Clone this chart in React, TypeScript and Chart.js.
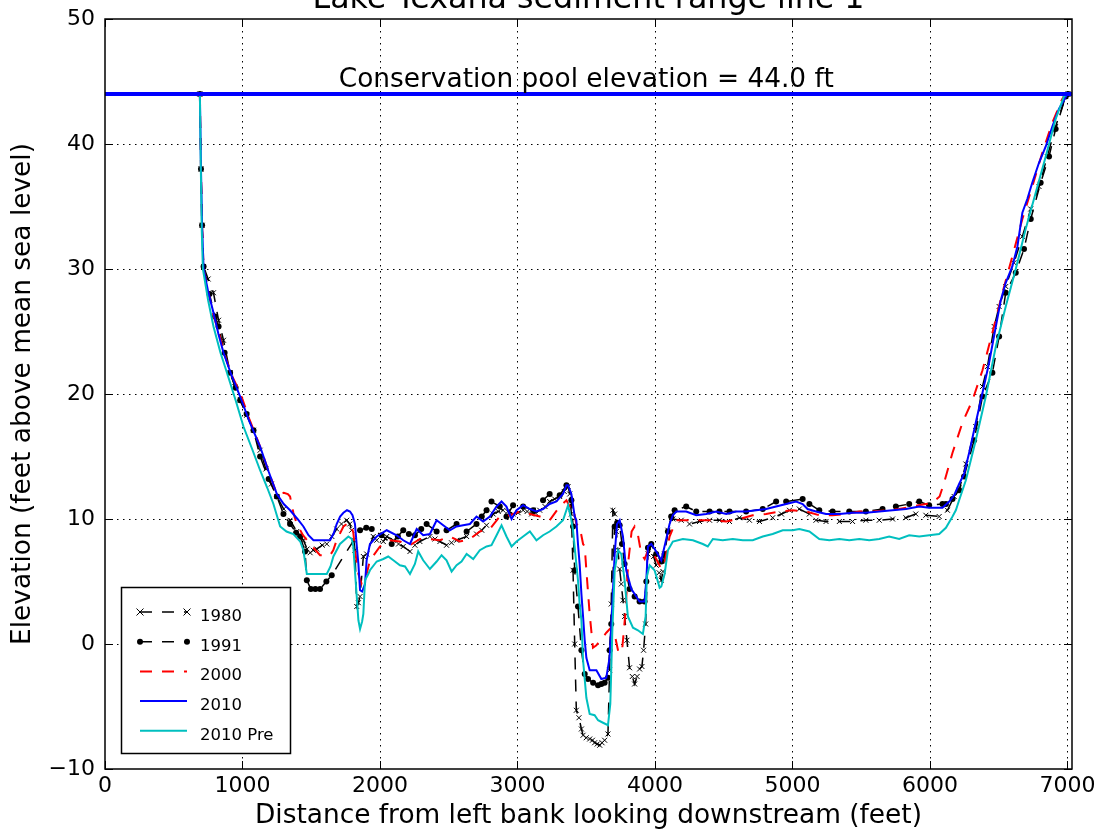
import React, { useEffect, useRef } from "react";
import { Chart, registerables } from "chart.js";

Chart.register(...registerables);

const TITLE = "Lake Texana sediment range line 1";
const X_LABEL = "Distance from left bank looking downstream (feet)";
const Y_LABEL = "Elevation (feet above mean sea level)";
const POOL_LABEL = "Conservation pool elevation = 44.0 ft";
const POOL_ELEV = 44.0;
const POOL_LABEL_X = 3500;

const X_TICKS = [0, 1000, 2000, 3000, 4000, 5000, 6000, 7000];
const Y_TICKS = [-10, 0, 10, 20, 30, 40, 50];
const X_MIN = 0;
const X_MAX = 7033;
const Y_MIN = -10;
const Y_MAX = 50;

const SERIES_NAMES = ["1980", "1991", "2000", "2010", "2010 Pre"];

const s1980: [number, number][] = [
  [690, 44], [698, 38], [706, 33.5], [717, 30.2], [750, 29.2], [789, 28.1], [826, 25.9], [862, 24.3],
  [910, 21.7], [945, 20.6], [983, 19.5], [1030, 18.3], [1080, 17.1], [1128, 15.5], [1170, 14.0],
  [1210, 12.8], [1250, 11.8], [1300, 10.8], [1346, 9.9], [1395, 9.0], [1443, 8.3], [1470, 7.6],
  [1492, 7.3], [1515, 7.5], [1540, 7.6], [1580, 7.9], [1613, 8.0], [1650, 8.6], [1685, 9.2],
  [1720, 9.6], [1758, 9.9], [1780, 9.6], [1794, 9.1], [1810, 8.3], [1818, 7.5], [1831, 3.0],
  [1843, 3.3], [1855, 3.8], [1879, 7.0], [1903, 7.2], [1951, 8.6], [1976, 8.3], [2024, 8.2],
  [2049, 8.6], [2097, 8.3], [2135, 8.0], [2169, 7.8], [2218, 7.4], [2254, 7.9], [2290, 8.2],
  [2363, 8.6], [2400, 8.4], [2436, 8.2], [2484, 7.9], [2520, 8.1], [2557, 8.3], [2630, 8.6],
  [2702, 8.8], [2740, 9.1], [2775, 9.5], [2823, 10.4], [2860, 10.6], [2895, 10.7], [2930, 10.6],
  [2968, 10.4], [3005, 10.5], [3041, 10.7], [3070, 10.6], [3102, 10.4], [3130, 10.5], [3162, 10.7],
  [3200, 11.0], [3234, 11.4], [3270, 11.6], [3307, 11.8], [3340, 12.2], [3368, 12.6], [3380, 12.0],
  [3392, 10.4], [3404, 5.9], [3416, 0.0], [3428, -5.3], [3447, -5.9], [3465, -6.8], [3477, -7.3],
  [3500, -7.5], [3525, -7.6], [3545, -7.7], [3561, -7.9], [3580, -8.0], [3598, -8.1], [3615, -7.9],
  [3634, -7.7], [3658, -7.2], [3670, -2.1], [3682, 3.2], [3694, 10.7], [3707, 10.4], [3719, 9.0],
  [3731, 7.5], [3743, 6.0], [3755, 4.8], [3767, 3.5], [3779, 2.2], [3796, 0.3], [3815, -1.9],
  [3835, -2.6], [3852, -3.2], [3870, -2.6], [3888, -2.0], [3905, -1.8], [3917, -0.5], [3932, 1.6],
  [3949, 7.2], [3973, 7.8], [3990, 7.0], [4009, 6.3], [4030, 5.7], [4046, 5.1], [4058, 5.8],
  [4070, 7.2], [4094, 9.1], [4130, 10.0], [4191, 9.9], [4251, 9.6], [4324, 9.8], [4397, 9.9],
  [4469, 9.9], [4542, 9.8], [4614, 10.1], [4687, 9.9], [4760, 9.8], [4856, 10.1], [4920, 10.4],
  [4978, 10.7], [5050, 10.8], [5123, 10.4], [5171, 9.9], [5244, 9.8], [5341, 9.8], [5437, 9.8],
  [5534, 9.9], [5631, 9.9], [5728, 10.0], [5825, 10.1], [5897, 10.4], [5970, 10.3], [6067, 10.2],
  [6127, 10.7], [6176, 11.8], [6212, 12.3], [6261, 14.4], [6333, 17.4], [6382, 20.6], [6418, 22.2],
  [6467, 25.4], [6503, 27.0], [6551, 28.6], [6611, 30.5], [6672, 32.6], [6733, 34.8], [6793, 36.6],
  [6853, 39.0], [6914, 41.4], [6987, 43.8], [7005, 44],
];

const s1991: [number, number][] = [
  [690, 44], [698, 38], [706, 33.5], [717, 30.2], [760, 28.0], [800, 26.2], [826, 25.4], [870, 23.3],
  [910, 21.7], [950, 20.5], [983, 19.5], [1030, 18.4], [1080, 17.1], [1128, 15.0], [1190, 13.2],
  [1250, 11.8], [1298, 10.4], [1346, 9.6], [1390, 8.9], [1419, 8.6], [1455, 7.4], [1468, 5.1],
  [1497, 4.4], [1530, 4.4], [1564, 4.4], [1610, 5.0], [1649, 5.5], [1855, 9.1], [1900, 9.3],
  [1940, 9.2], [2012, 8.7], [2085, 8.0], [2130, 8.6], [2169, 9.1], [2210, 8.8], [2254, 8.7],
  [2300, 9.2], [2339, 9.6], [2412, 9.0], [2484, 9.1], [2557, 9.6], [2630, 9.0], [2702, 9.6],
  [2740, 10.2], [2775, 10.7], [2811, 11.4], [2871, 11.0], [2920, 10.2], [2968, 11.1], [3041, 11.0],
  [3114, 10.7], [3186, 11.5], [3234, 12.0], [3307, 11.9], [3356, 12.7], [3392, 11.5], [3404, 9.4],
  [3416, 5.9], [3440, 3.0], [3465, -0.5], [3489, -2.4], [3513, -2.8], [3550, -3.1], [3586, -3.3],
  [3610, -3.2], [3634, -3.1], [3658, -2.7], [3670, -0.5], [3682, 1.6], [3707, 9.4], [3725, 9.7],
  [3743, 9.5], [3760, 8.0], [3779, 6.4], [3815, 4.4], [3852, 3.8], [3888, 3.4], [3924, 3.4],
  [3937, 5.0], [3949, 7.7], [3973, 8.0], [4009, 7.2], [4046, 6.6], [4070, 7.2], [4094, 9.0],
  [4118, 10.2], [4143, 10.7], [4227, 11.0], [4300, 10.6], [4397, 10.6], [4469, 10.6], [4542, 10.6],
  [4663, 10.6], [4784, 10.8], [4881, 11.4], [4954, 11.4], [5074, 11.6], [5123, 11.2], [5195, 10.7],
  [5292, 10.6], [5413, 10.6], [5534, 10.6], [5655, 10.8], [5752, 11.0], [5849, 11.2], [5922, 11.4],
  [5994, 11.1], [6091, 11.2], [6116, 11.2], [6164, 11.6], [6212, 12.3], [6248, 13.4], [6321, 16.3],
  [6382, 19.8], [6454, 21.7], [6503, 24.6], [6551, 28.1], [6624, 29.7], [6684, 31.6], [6733, 34.0],
  [6805, 36.9], [6866, 39.0], [6914, 41.2], [6987, 43.8], [7005, 44],
];

const s2000: [number, number][] = [
  [690, 44], [698, 38], [706, 33.5], [717, 30], [750, 28.2], [789, 26.3], [830, 24.8], [880, 22.8],
  [930, 21.3], [983, 20.1], [1050, 18.0], [1128, 15.8], [1190, 13.8], [1250, 12.0], [1300, 12.1],
  [1330, 12.0], [1346, 11.8], [1370, 10.5], [1395, 9.6], [1440, 8.7], [1492, 8.0], [1564, 7.1],
  [1637, 7.1], [1660, 7.5], [1685, 8.3], [1734, 9.4], [1770, 9.7], [1790, 9.5], [1806, 8.9],
  [1830, 6.5], [1843, 5.6], [1867, 4.8], [1885, 5.0], [1903, 5.6], [1927, 6.7], [2000, 7.8],
  [2073, 8.3], [2145, 8.2], [2218, 7.9], [2290, 8.4], [2363, 8.4], [2436, 8.3], [2508, 8.6],
  [2581, 8.2], [2654, 8.4], [2726, 9.0], [2799, 9.2], [2871, 10.2], [2944, 10.3], [3017, 10.6],
  [3090, 10.4], [3162, 10.2], [3234, 9.9], [3307, 11.0], [3356, 11.5], [3380, 11.0], [3404, 11.0],
  [3428, 9.6], [3452, 9.4], [3477, 8.0], [3489, 7.8], [3501, 5.9], [3525, 2.4], [3549, -0.3],
  [3574, -0.1], [3610, 0.4], [3646, 0.9], [3680, 1.3], [3710, 0.6], [3735, -0.7], [3760, -0.6],
  [3785, 2.5], [3805, 6.5], [3830, 9.0], [3852, 9.4], [3875, 8.8], [3900, 7.2], [3925, 6.8],
  [3949, 7.5], [3973, 7.5], [4009, 6.8], [4046, 6.0], [4070, 6.5], [4106, 8.6], [4155, 9.9],
  [4227, 9.9], [4324, 9.9], [4421, 9.9], [4518, 9.8], [4614, 10.0], [4711, 10.3], [4808, 10.4],
  [4905, 10.6], [5002, 10.7], [5099, 10.6], [5195, 10.3], [5292, 10.3], [5389, 10.4], [5486, 10.6],
  [5583, 10.6], [5679, 10.7], [5776, 10.8], [5873, 11.0], [5970, 11.2], [6018, 11.3], [6070, 11.8],
  [6100, 12.8], [6164, 15.3], [6236, 17.7], [6309, 19.5], [6382, 21.9], [6454, 24.9], [6527, 28.1],
  [6599, 31.0], [6672, 34.0], [6744, 36.6], [6817, 39.3], [6890, 41.7], [6962, 43.6], [6990, 44],
];

const s2010: [number, number][] = [
  [690, 44], [698, 38], [706, 33.5], [717, 30], [750, 28.2], [789, 26.5], [825, 24.8], [862, 23.3],
  [920, 21.5], [983, 19.8], [1050, 17.8], [1128, 15.8], [1190, 13.8], [1250, 12.0], [1300, 11.2],
  [1346, 10.7], [1400, 10.0], [1443, 9.4], [1480, 8.7], [1516, 8.3], [1580, 8.3], [1637, 8.3],
  [1665, 8.9], [1685, 9.6], [1710, 10.2], [1734, 10.5], [1760, 10.7], [1782, 10.6], [1800, 10.3],
  [1818, 9.6], [1830, 8.0], [1843, 6.4], [1855, 4.3], [1870, 4.2], [1891, 4.8], [1903, 6.7],
  [1927, 8.0], [1976, 8.6], [2049, 9.1], [2121, 8.7], [2169, 8.3], [2218, 8.0], [2267, 9.2],
  [2314, 8.7], [2363, 8.8], [2412, 9.9], [2460, 9.5], [2508, 9.1], [2557, 9.4], [2605, 9.5],
  [2654, 9.6], [2702, 10.2], [2750, 9.8], [2799, 10.2], [2848, 11.0], [2884, 11.4], [2920, 11.0],
  [2957, 10.0], [2993, 10.7], [3041, 11.1], [3090, 10.8], [3138, 10.6], [3186, 10.8], [3234, 11.2],
  [3283, 11.4], [3331, 12.0], [3356, 12.7], [3368, 12.7], [3392, 12.0], [3416, 10.2], [3428, 9.9],
  [3440, 8.0], [3452, 6.4], [3465, 4.0], [3477, 2.2], [3489, 0.3], [3501, -1.1], [3525, -2.1],
  [3550, -2.1], [3574, -2.1], [3610, -2.8], [3646, -2.7], [3670, -1.1], [3690, 3.2], [3707, 7.2],
  [3724, 9.6], [3743, 9.9], [3767, 8.6], [3791, 5.9], [3828, 4.4], [3864, 3.8], [3888, 3.4],
  [3924, 3.4], [3937, 5.1], [3949, 7.8], [3973, 8.0], [4009, 7.4], [4046, 6.7], [4082, 8.4],
  [4106, 9.6], [4130, 10.3], [4155, 10.6], [4227, 10.6], [4300, 10.3], [4373, 10.4], [4445, 10.6],
  [4518, 10.4], [4590, 10.6], [4663, 10.6], [4736, 10.7], [4808, 10.8], [4881, 11.0], [4954, 11.2],
  [5026, 11.4], [5074, 11.2], [5110, 10.8], [5171, 10.6], [5244, 10.4], [5341, 10.4], [5437, 10.5],
  [5534, 10.5], [5631, 10.6], [5728, 10.7], [5825, 10.8], [5922, 11.0], [5994, 10.9], [6091, 10.9],
  [6140, 11.4], [6176, 11.9], [6212, 12.8], [6248, 13.6], [6285, 15.3], [6333, 17.7], [6382, 20.1],
  [6430, 22.5], [6479, 25.4], [6515, 27.5], [6551, 28.9], [6599, 30.2], [6636, 31.8], [6672, 34.5],
  [6708, 35.6], [6744, 36.9], [6793, 38.5], [6842, 39.8], [6890, 41.4], [6938, 42.8], [7000, 44],
];

const s2010Pre: [number, number][] = [
  [690, 44], [697, 38], [704, 33], [712, 30], [750, 27.5], [789, 25.4], [840, 23.3], [887, 21.7],
  [950, 19.5], [1007, 17.4], [1070, 15.6], [1128, 13.9], [1180, 12.5], [1225, 11.2], [1274, 9.4],
  [1320, 9.0], [1370, 8.8], [1420, 8.2], [1443, 7.5], [1468, 5.6], [1540, 5.6], [1613, 5.6],
  [1640, 6.2], [1661, 7.0], [1709, 8.0], [1770, 8.6], [1795, 8.4], [1806, 7.8], [1820, 5.5],
  [1831, 3.8], [1843, 1.9], [1855, 1.2], [1870, 1.8], [1879, 2.4], [1891, 5.1], [1915, 5.6],
  [1927, 5.9], [1976, 6.6], [2024, 6.8], [2060, 7.0], [2097, 6.7], [2145, 6.3], [2182, 6.2],
  [2218, 5.6], [2254, 6.4], [2278, 7.4], [2314, 6.7], [2363, 6.0], [2412, 6.6], [2448, 7.1],
  [2484, 6.7], [2521, 5.8], [2557, 6.3], [2593, 6.6], [2630, 7.2], [2678, 6.8], [2726, 7.5],
  [2775, 7.8], [2811, 7.9], [2848, 8.7], [2884, 9.5], [2920, 8.6], [2957, 7.8], [2993, 8.2],
  [3041, 8.6], [3090, 9.0], [3138, 8.3], [3186, 8.7], [3234, 9.0], [3283, 9.4], [3331, 9.9],
  [3368, 11.1], [3392, 9.9], [3404, 9.1], [3428, 6.4], [3440, 5.1], [3452, 3.2], [3465, 1.9],
  [3477, -1.3], [3501, -4.3], [3525, -5.6], [3561, -5.7], [3586, -6.1], [3622, -6.3], [3658, -6.5],
  [3675, -4.8], [3690, 1.1], [3707, 5.9], [3731, 7.5], [3755, 7.2], [3779, 5.1], [3803, 2.2],
  [3840, 1.3], [3876, 1.1], [3912, 0.8], [3932, 2.2], [3941, 5.4], [3961, 6.3], [3997, 5.9],
  [4034, 4.5], [4046, 4.6], [4070, 5.6], [4094, 7.5], [4130, 8.2], [4203, 8.4], [4276, 8.3],
  [4348, 8.0], [4384, 7.8], [4421, 8.4], [4493, 8.3], [4566, 8.4], [4639, 8.3], [4711, 8.3],
  [4784, 8.6], [4856, 8.8], [4929, 9.1], [5002, 9.1], [5050, 9.2], [5123, 9.0], [5195, 8.4],
  [5268, 8.3], [5341, 8.4], [5413, 8.3], [5486, 8.4], [5558, 8.3], [5631, 8.4], [5703, 8.6],
  [5776, 8.4], [5849, 8.7], [5922, 8.6], [5994, 8.7], [6067, 8.8], [6116, 9.3], [6164, 10.2],
  [6188, 10.7], [6212, 11.5], [6261, 13.1], [6333, 16.3], [6406, 19.8], [6479, 23.8], [6551, 27.0],
  [6624, 30.0], [6696, 33.2], [6769, 36.1], [6842, 39.0], [6914, 42.0], [6975, 43.8], [7005, 44],
];

const toPts = (arr: [number, number][]) => arr.map(([x, y]) => ({ x, y }));

const FONT = "'DejaVu Sans', 'Liberation Sans', sans-serif";

function drawMarker(ctx: CanvasRenderingContext2D, style: string, cx: number, cy: number) {
  ctx.save();
  ctx.setLineDash([]);
  ctx.strokeStyle = "#000";
  ctx.fillStyle = "#000";
  ctx.lineWidth = 1;
  if (style === "crossRot") {
    const r = 3.5;
    ctx.beginPath();
    ctx.moveTo(cx - r, cy - r);
    ctx.lineTo(cx + r, cy + r);
    ctx.moveTo(cx - r, cy + r);
    ctx.lineTo(cx + r, cy - r);
    ctx.stroke();
  } else if (style === "circle") {
    ctx.beginPath();
    ctx.arc(cx, cy, 3, 0, Math.PI * 2);
    ctx.fill();
  }
  ctx.restore();
}

const decorPlugin = {
  id: "decor",
  beforeDatasetsDraw(chart: any) {
    const { ctx, chartArea: a, scales } = chart;
    const xs = scales.x;
    const ys = scales.y;
    ctx.save();
    ctx.strokeStyle = "#000";
    ctx.lineWidth = 1;
    ctx.setLineDash([1.5, 4.5]);
    for (const v of X_TICKS) {
      const px = Math.round(xs.getPixelForValue(v)) + 0.5;
      if (px <= a.left + 1 || px >= a.right - 1) continue;
      ctx.beginPath();
      ctx.moveTo(px, a.top);
      ctx.lineTo(px, a.bottom);
      ctx.stroke();
    }
    for (const v of Y_TICKS) {
      const py = Math.round(ys.getPixelForValue(v)) + 0.5;
      if (py <= a.top + 1 || py >= a.bottom - 1) continue;
      ctx.beginPath();
      ctx.moveTo(a.left, py);
      ctx.lineTo(a.right, py);
      ctx.stroke();
    }
    ctx.restore();
  },
  afterDraw(chart: any) {
    const { ctx, chartArea: a, scales } = chart;
    const xs = scales.x;
    const ys = scales.y;
    ctx.save();
    ctx.setLineDash([]);
    ctx.strokeStyle = "#000";
    ctx.lineWidth = 1;
    const tl = 8;
    for (const v of X_TICKS) {
      const px = Math.round(xs.getPixelForValue(v)) + 0.5;
      ctx.beginPath();
      ctx.moveTo(px, a.bottom);
      ctx.lineTo(px, a.bottom - tl);
      ctx.moveTo(px, a.top);
      ctx.lineTo(px, a.top + tl);
      ctx.stroke();
    }
    for (const v of Y_TICKS) {
      const py = Math.round(ys.getPixelForValue(v)) + 0.5;
      ctx.beginPath();
      ctx.moveTo(a.left, py);
      ctx.lineTo(a.left + tl, py);
      ctx.moveTo(a.right, py);
      ctx.lineTo(a.right - tl, py);
      ctx.stroke();
    }
    ctx.lineWidth = 1.5;
    ctx.strokeRect(a.left, a.top, a.right - a.left, a.bottom - a.top);

    ctx.fillStyle = "#000";
    ctx.font = `31.7px ${FONT}`;
    ctx.textAlign = "center";
    ctx.textBaseline = "alphabetic";
    ctx.fillText(TITLE, (a.left + a.right) / 2, 8);

    ctx.font = `26.4px ${FONT}`;
    ctx.fillText(POOL_LABEL, xs.getPixelForValue(POOL_LABEL_X), ys.getPixelForValue(POOL_ELEV) - 7);

    const bx = 121, by = 587, bw = 169, bh = 166;
    ctx.fillStyle = "#fff";
    ctx.fillRect(bx, by, bw, bh);
    ctx.strokeStyle = "#000";
    ctx.lineWidth = 1.5;
    ctx.strokeRect(bx + 0.5, by + 0.5, bw, bh);
    const ds = chart.data.datasets;
    SERIES_NAMES.forEach((name, i) => {
      const d = ds.find((q: any) => q.label === name);
      if (!d) return;
      const ly = 612 + i * 29.7;
      const x0 = 140, x1 = 187;
      ctx.save();
      ctx.strokeStyle = d.borderColor;
      ctx.lineWidth = d.borderWidth;
      ctx.setLineDash(d.borderDash || []);
      ctx.beginPath();
      ctx.moveTo(x0, ly);
      ctx.lineTo(x1, ly);
      ctx.stroke();
      ctx.restore();
      if (d.pointRadius > 0) {
        drawMarker(ctx, d.pointStyle, x0, ly);
        drawMarker(ctx, d.pointStyle, x1, ly);
      }
      ctx.fillStyle = "#000";
      ctx.font = `16.5px ${FONT}`;
      ctx.textAlign = "left";
      ctx.textBaseline = "alphabetic";
      ctx.fillText(name, 200, ly + 9);
    });
    ctx.restore();
  },
};

export default function App() {
  const ref = useRef<HTMLCanvasElement | null>(null);

  useEffect(() => {
    if (!ref.current) return;
    const chart = new Chart(ref.current, {
      type: "line",
      data: {
        datasets: [
          {
            label: "pool",
            data: [{ x: X_MIN, y: POOL_ELEV }, { x: X_MAX, y: POOL_ELEV }],
            borderColor: "#0000ff",
            borderWidth: 4,
            pointRadius: 0,
            order: 0,
          },
          {
            label: "2010 Pre",
            data: toPts(s2010Pre),
            borderColor: "#00bfbf",
            borderWidth: 2,
            pointRadius: 0,
            order: 1,
          },
          {
            label: "2010",
            data: toPts(s2010),
            borderColor: "#0000ff",
            borderWidth: 2,
            pointRadius: 0,
            order: 2,
          },
          {
            label: "2000",
            data: toPts(s2000),
            borderColor: "#ff0000",
            borderWidth: 2,
            borderDash: [12, 10],
            pointRadius: 0,
            order: 3,
          },
          {
            label: "1991",
            data: toPts(s1991),
            borderColor: "#000000",
            borderWidth: 1.5,
            borderDash: [12, 10],
            pointStyle: "circle",
            pointRadius: 3,
            pointBackgroundColor: "#000000",
            pointBorderColor: "#000000",
            pointBorderWidth: 0,
            order: 4,
          },
          {
            label: "1980",
            data: toPts(s1980),
            borderColor: "#000000",
            borderWidth: 1.5,
            borderDash: [12, 10],
            pointStyle: "crossRot",
            pointRadius: 3.5,
            pointBorderColor: "#000000",
            pointBorderWidth: 1,
            order: 5,
          },
        ] as any,
      },
      options: {
        responsive: false,
        animation: false,
        devicePixelRatio: 1,
        layout: { padding: { left: 0, right: 29, top: 19, bottom: 0 } },
        elements: { line: { tension: 0 } },
        plugins: {
          legend: { display: false },
          title: { display: false },
          tooltip: { enabled: false },
        },
        scales: {
          x: {
            type: "linear",
            min: X_MIN,
            max: X_MAX,
            grid: { display: false, drawTicks: false },
            border: { display: false },
            afterBuildTicks: (s: any) => {
              s.ticks = X_TICKS.map((v) => ({ value: v }));
            },
            afterFit: (s: any) => {
              s.height = 60;
              s.paddingLeft = 0;
              s.paddingRight = 0;
            },
            ticks: {
              color: "#000",
              font: { family: FONT, size: 22 },
              padding: 4,
              maxRotation: 0,
              autoSkip: false,
              callback: (v: any) => String(v),
            },
            title: {
              display: true,
              text: X_LABEL,
              color: "#000",
              font: { family: FONT, size: 26.4, lineHeight: 1.0 },
              padding: { top: 0, bottom: 0 },
            },
          },
          y: {
            type: "linear",
            min: Y_MIN,
            max: Y_MAX,
            grid: { display: false, drawTicks: false },
            border: { display: false },
            afterBuildTicks: (s: any) => {
              s.ticks = Y_TICKS.map((v) => ({ value: v }));
            },
            afterFit: (s: any) => {
              s.width = 105;
              s.paddingTop = 0;
              s.paddingBottom = 0;
            },
            ticks: {
              color: "#000",
              font: { family: FONT, size: 22 },
              padding: 10,
              autoSkip: false,
              callback: (v: any) => (v < 0 ? "\u2212" + Math.abs(v) : String(v)),
            },
            title: {
              display: true,
              text: Y_LABEL,
              color: "#000",
              font: { family: FONT, size: 26.4 },
              padding: { top: 7, bottom: 0 },
            },
          },
        },
      },
      plugins: [decorPlugin],
    });
    return () => chart.destroy();
  }, []);

  return (
    <div style={{ position: "absolute", left: 0, top: 0, width: 1101, height: 829, background: "#fff" }}>
      <canvas ref={ref} width={1101} height={829} style={{ display: "block" }} />
    </div>
  );
}
